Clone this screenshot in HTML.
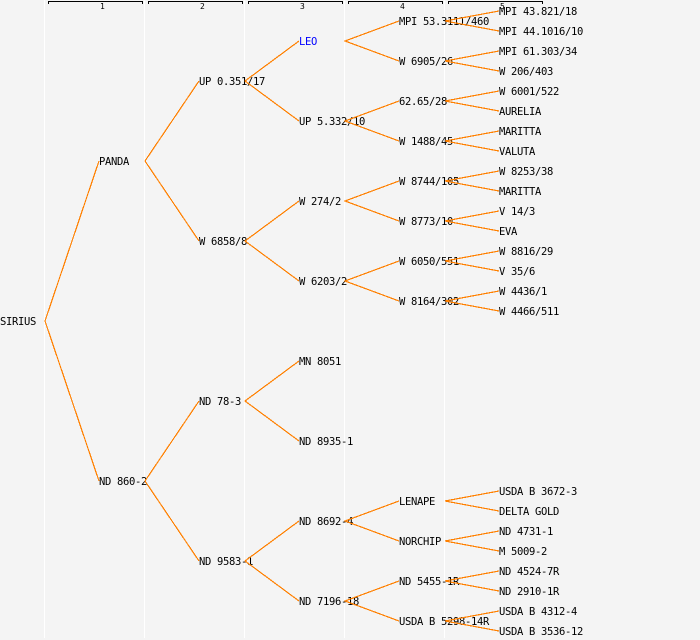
<!DOCTYPE html>
<html><head><meta charset="utf-8"><style>
html,body{margin:0;padding:0;background:#f4f4f4}
svg{display:block}
text{font-family:"DejaVu Sans Mono","Liberation Mono",monospace;font-size:10.5px;letter-spacing:-0.32px;fill:#000}
text.h{font-size:8px;letter-spacing:0}
</style></head><body>
<svg xmlns="http://www.w3.org/2000/svg" width="700" height="640" viewBox="0 0 700 640">
<rect width="700" height="640" fill="#f4f4f4"/>
<g stroke="#fff" stroke-width="1" shape-rendering="crispEdges">
<path d="M44.5 0V638M144.5 0V638M244.5 0V638M344.5 0V638M444.5 0V638"/>
</g>
<g stroke="#000" stroke-width="1" fill="none" shape-rendering="crispEdges">
<path d="M48.5 4V1.5H142.5V4M148.5 4V1.5H242.5V4M248.5 4V1.5H342.5V4M348.5 4V1.5H442.5V4M448.5 4V1.5H542.5V4"/>
</g>
<g>
<text class="h" x="100" y="9">1</text><text class="h" x="200" y="9">2</text><text class="h" x="300" y="9">3</text><text class="h" x="400" y="9">4</text><text class="h" x="500" y="9">5</text>
</g>
<g>
<text x="0" y="325">SIRIUS</text>
<text x="99" y="165">PANDA</text>
<text x="99" y="485">ND 860-2</text>
<text x="199" y="85">UP 0.351/17</text>
<text x="199" y="245">W 6858/8</text>
<text x="199" y="405">ND 78-3</text>
<text x="199" y="565">ND 9583-1</text>
<text x="299" y="45" style="fill:#0000ff">LEO</text>
<text x="299" y="125">UP 5.332/10</text>
<text x="299" y="205">W 274/2</text>
<text x="299" y="285">W 6203/2</text>
<text x="299" y="365">MN 8051</text>
<text x="299" y="445">ND 8935-1</text>
<text x="299" y="525">ND 8692-4</text>
<text x="299" y="605">ND 7196-18</text>
<text x="399" y="25">MPI 53.3111/460</text>
<text x="399" y="65">W 6905/26</text>
<text x="399" y="105">62.65/28</text>
<text x="399" y="145">W 1488/45</text>
<text x="399" y="185">W 8744/105</text>
<text x="399" y="225">W 8773/10</text>
<text x="399" y="265">W 6050/551</text>
<text x="399" y="305">W 8164/302</text>
<text x="399" y="505">LENAPE</text>
<text x="399" y="545">NORCHIP</text>
<text x="399" y="585">ND 5455-1R</text>
<text x="399" y="625">USDA B 5298-14R</text>
<text x="499" y="15">MPI 43.821/18</text>
<text x="499" y="35">MPI 44.1016/10</text>
<text x="499" y="55">MPI 61.303/34</text>
<text x="499" y="75">W 206/403</text>
<text x="499" y="95">W 6001/522</text>
<text x="499" y="115">AURELIA</text>
<text x="499" y="135">MARITTA</text>
<text x="499" y="155">VALUTA</text>
<text x="499" y="175">W 8253/38</text>
<text x="499" y="195">MARITTA</text>
<text x="499" y="215">V 14/3</text>
<text x="499" y="235">EVA</text>
<text x="499" y="255">W 8816/29</text>
<text x="499" y="275">V 35/6</text>
<text x="499" y="295">W 4436/1</text>
<text x="499" y="315">W 4466/511</text>
<text x="499" y="495">USDA B 3672-3</text>
<text x="499" y="515">DELTA GOLD</text>
<text x="499" y="535">ND 4731-1</text>
<text x="499" y="555">M 5009-2</text>
<text x="499" y="575">ND 4524-7R</text>
<text x="499" y="595">ND 2910-1R</text>
<text x="499" y="615">USDA B 4312-4</text>
<text x="499" y="635">USDA B 3536-12</text>
</g>
<g stroke="#ff8000" stroke-width="1.2" fill="none" shape-rendering="crispEdges">
<path d="M99 161L45 321L99 481"/>
<path d="M199 81L145 161L199 241M199 401L145 481L199 561"/>
<path d="M299 41L245 81L299 121M299 201L245 241L299 281M299 361L245 401L299 441M299 521L245 561L299 601"/>
<path d="M399 21L345 41L399 61M399 101L345 121L399 141M399 181L345 201L399 221M399 261L345 281L399 301M399 501L345 521L399 541M399 581L345 601L399 621"/>
<path d="M499 11L445 21L499 31M499 51L445 61L499 71M499 91L445 101L499 111M499 131L445 141L499 151M499 171L445 181L499 191M499 211L445 221L499 231M499 251L445 261L499 271M499 291L445 301L499 311M499 491L445 501L499 511M499 531L445 541L499 551M499 571L445 581L499 591M499 611L445 621L499 631"/>
</g>
</svg>
</body></html>
